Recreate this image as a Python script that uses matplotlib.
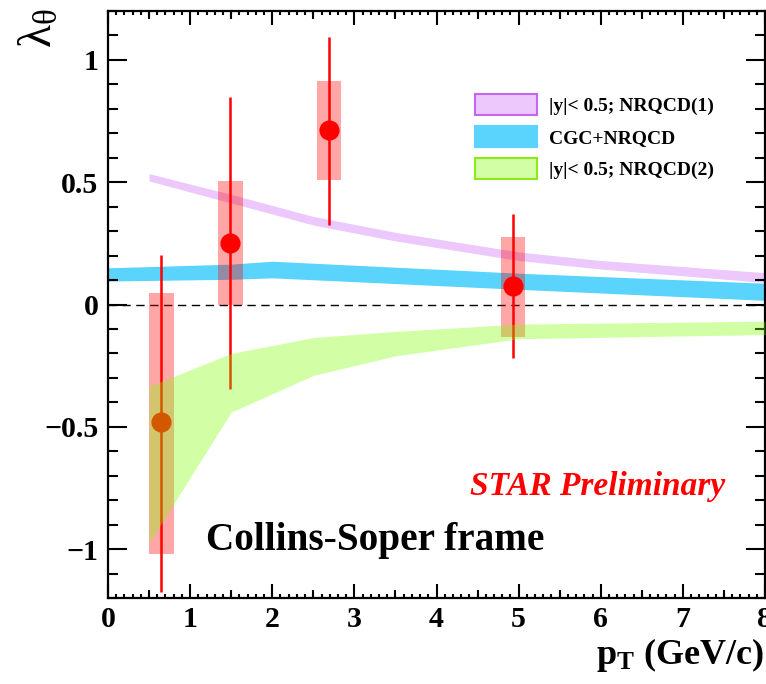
import matplotlib
matplotlib.use("Agg")
import matplotlib.pyplot as plt
from matplotlib.patches import Patch
from matplotlib.ticker import MultipleLocator, FuncFormatter
import numpy as np

plt.rcParams['font.family'] = ['Liberation Serif', 'DejaVu Serif']
plt.rcParams['font.weight'] = 'bold'
plt.rcParams['mathtext.fontset'] = 'custom'
plt.rcParams['mathtext.rm'] = 'Liberation Serif:regular'
plt.rcParams['mathtext.it'] = 'Liberation Serif:italic:regular'
plt.rcParams['mathtext.bf'] = 'Liberation Serif:bold'

# ---- data (STAR points) ----
pt = [0.65, 1.49, 2.69, 4.93]
lam = [-0.48, 0.25, 0.712, 0.074]
stat_lo = [1.174 - 0.48, 0.25 + 0.344, 0.712 - 0.327, 0.074 + 0.217]
stat_hi = [0.204 + 0.48, 0.847 - 0.25, 1.092 - 0.712, 0.372 - 0.074]
sys_lo = [-1.022, 0.0, 0.511, -0.131]
sys_hi = [0.049, 0.503, 0.912, 0.278]
sys_halfwidth = 0.15

# ---- model bands ----
nrqcd1_x = [0.5, 1.5, 2.5, 3.5, 5.0, 6.0, 8.0]
nrqcd1_hi = [0.535, 0.45, 0.36, 0.295, 0.215, 0.18, 0.13]
nrqcd1_lo = [0.505, 0.415, 0.325, 0.26, 0.18, 0.145, 0.09]

cgc_x = [0.0, 1.5, 2.0, 5.0, 8.0]
cgc_hi = [0.15, 0.165, 0.177, 0.128, 0.087]
cgc_lo = [0.096, 0.103, 0.109, 0.062, 0.017]

nrqcd2_x = [0.5, 1.5, 2.5, 3.5, 5.0, 8.0]
nrqcd2_hi = [-0.335, -0.20, -0.135, -0.11, -0.08, -0.068]
nrqcd2_lo = [-0.975, -0.44, -0.29, -0.21, -0.14, -0.123]

labels = ["|y|< 0.5; NRQCD(1)", "CGC+NRQCD", "|y|< 0.5; NRQCD(2)"]

W, H = 766, 684
fig = plt.figure(figsize=(W / 100, H / 100), dpi=100)
ax = fig.add_axes([108 / W, 1 - 598 / H, (765 - 108) / W, (598 - 11) / H])

purple_fc = '#ecc8fc'
purple_ec = '#c466f2'
blue_fc = '#5ad4fc'
green_c = (0.5, 1.0, 0.0)
green_alpha = 0.35
green_ec = '#8ee81a'

ax.fill_between(nrqcd1_x, nrqcd1_lo, nrqcd1_hi, color=purple_fc, lw=0, zorder=1)
ax.fill_between(cgc_x, cgc_lo, cgc_hi, color=blue_fc, lw=0, zorder=1)

ax.axhline(0, color='black', lw=1.0, ls=(0, (6, 4)), zorder=1.5)

for x, lo, hi in zip(pt, sys_lo, sys_hi):
    ax.bar(x, hi - lo, bottom=lo, width=2 * sys_halfwidth, color='red',
           alpha=0.35, lw=0, zorder=2)

ax.errorbar(pt, lam, yerr=[stat_lo, stat_hi], fmt='o', color='red',
            ms=13.5, elinewidth=1.8, capsize=0, zorder=3)

ax.fill_between(nrqcd2_x, nrqcd2_lo, nrqcd2_hi, color=green_c, alpha=green_alpha,
                lw=0, zorder=4)

ax.set_xlim(0, 8)
ax.set_ylim(-1.2, 1.2)

ax.xaxis.set_major_locator(MultipleLocator(1))
ax.xaxis.set_minor_locator(MultipleLocator(0.1))
ax.yaxis.set_major_locator(MultipleLocator(0.5))
ax.yaxis.set_minor_locator(MultipleLocator(0.1))
ax.yaxis.set_major_formatter(FuncFormatter(lambda v, p: ("%g" % v).replace("-", "\u2212")))
ax.tick_params(which='both', direction='in', top=True, right=True, width=1.5)
ax.tick_params(axis='x', which='major', length=10, pad=6, labelsize=21.5)
ax.tick_params(axis='x', which='minor', length=3)
ax.tick_params(axis='y', which='major', length=14, pad=7, labelsize=21.5)
ax.tick_params(axis='y', which='minor', length=7)
for lab in ax.get_xticklabels() + ax.get_yticklabels():
    lab.set_fontweight('bold')
for s in ax.spines.values():
    s.set_linewidth(1.6)

# medium ticks at half-integers on x (ROOT style)
for loc in ('bottom', 'top'):
    sec = ax.secondary_xaxis(loc)
    sec.set_xticks(np.arange(0.5, 8, 1.0))
    sec.tick_params(direction='in', length=6, width=1.5, labelbottom=False,
                    labeltop=False)
    sec.spines[loc].set_visible(False)

ax.text(1.195, -1.002, "Collins-Soper frame", fontsize=28.3, fontweight='bold',
        ha='left', va='baseline', zorder=6)
ax.text(4.41, -0.777, "STAR Preliminary", fontsize=24, fontweight='bold',
        style='italic', color='red', ha='left', va='baseline', zorder=6)

handles = [
    Patch(facecolor=purple_fc, edgecolor=purple_ec, lw=1.5),
    Patch(facecolor=blue_fc, edgecolor=blue_fc, lw=1.5),
    Patch(facecolor=(0.825, 1.0, 0.65), edgecolor=green_ec, lw=1.5),
]
leg = ax.legend(handles, labels, loc='upper left', bbox_to_anchor=(0.532, 0.888),
                frameon=False, prop={'family': 'Liberation Serif', 'weight': 'bold',
                                     'size': 14},
                handlelength=3.2, handleheight=1.3, labelspacing=0.55,
                handletextpad=0.6, borderpad=0.4)

fig.text(40 / W, 1 - 8 / H, r"$\mathrm{\lambda_{\theta}}$", rotation=90, fontsize=34,
         fontweight='normal', ha='center', va='top')
fig.text(764 / W, 1 - 664 / H, r"$\mathbf{p}_{\mathbf{T}}$ (GeV/c)", fontsize=26,
         fontweight='bold', ha='right', va='baseline')

fig.savefig("out.png", dpi=100)
